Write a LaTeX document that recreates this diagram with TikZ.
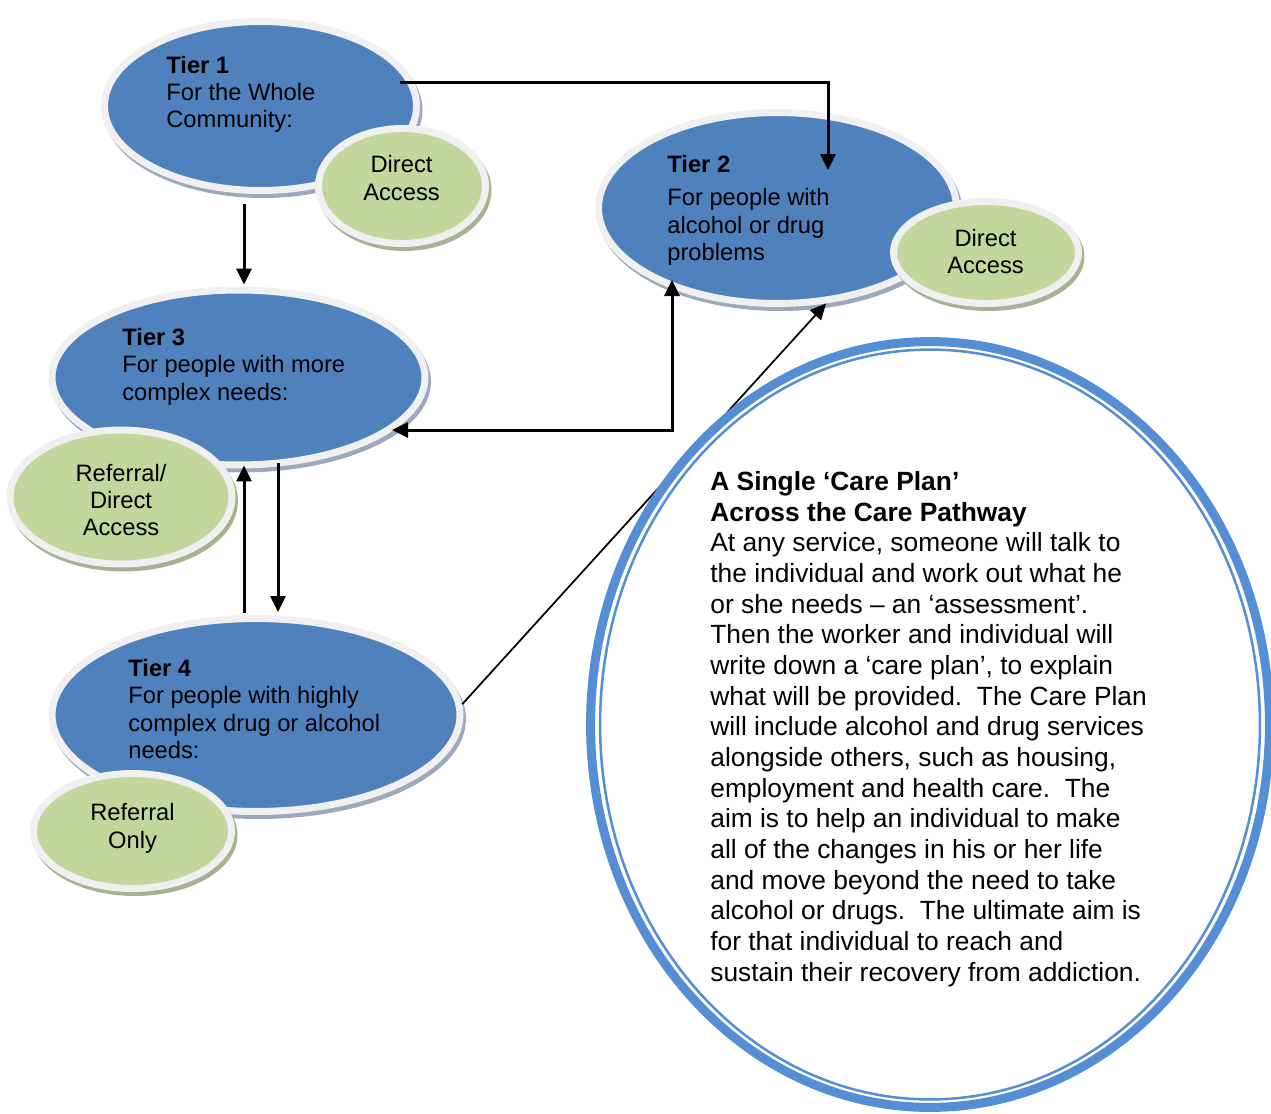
\documentclass[tikz,border=0pt]{standalone}
\usepackage{fontspec}
\setmainfont{Liberation Sans}
\usetikzlibrary{shapes.geometric,shadows,arrows.meta,calc}

\definecolor{tierblue}{HTML}{4F81BD}
\definecolor{accessgreen}{HTML}{C3D69B}
\definecolor{ringgrey}{HTML}{F0F0F0}
\definecolor{tiershadow}{HTML}{9DA8BD}
\definecolor{greenshadow}{HTML}{A7B194}
\definecolor{planblue}{HTML}{558ED5}

\begin{document}
\begin{tikzpicture}[x=0.02cm, y=-0.02cm, >={Triangle[width=0.3cm,length=0.32cm]},
    tier/.style={ellipse, draw=ringgrey, line width=0.14cm, fill=tierblue, inner sep=0pt,
        drop shadow={shadow xshift=0.05cm, shadow yshift=-0.08cm, fill=tiershadow, draw=tiershadow, line width=0.14cm, opacity=1}},
    access/.style={ellipse, draw=ringgrey, line width=0.14cm, fill=accessgreen, inner sep=0pt,
        drop shadow={shadow xshift=0.05cm, shadow yshift=-0.08cm, fill=greenshadow, draw=greenshadow, line width=0.14cm, opacity=1}},
    plan/.style={ellipse, draw=planblue, line width=0.18cm, fill=white, inner sep=0pt},
    tierlabel/.style={anchor=north west, inner sep=0pt, align=left, font=\fontsize{13.5}{15.6}\selectfont},
    accesslabel/.style={inner sep=0pt, align=center, font=\fontsize{13.5}{15.6}\selectfont},
    plantext/.style={anchor=north west, inner sep=0pt, align=left, font=\fontsize{15}{17.45}\selectfont}]

\useasboundingbox (0,0) rectangle (1271,1113);

% Tiers
\node[tier, minimum width=6.24cm, minimum height=3.38cm] (t1) at (260.5,106) {};
\node[access, minimum width=3.34cm, minimum height=2.3cm] (t1da) at (402,186) {};
\node[tierlabel] (t1txt) at (166,55.5) {\textbf{Tier 1}\\For the Whole\\Community:};
\node[accesslabel] (t1datxt) at (401.5,178) {Direct\\Access};

\node[tier, minimum width=7.16cm, minimum height=3.82cm] (t2) at (777.5,208) {};
\node[access, minimum width=3.7cm, minimum height=2.04cm] (t2da) at (986,252.5) {};
\node[tierlabel] (t2txt) at (667,154.5) {\textbf{Tier 2}\\[0.13cm]For people with\\alcohol or drug\\problems};
\node[accesslabel] (t2datxt) at (985.5,251.5) {Direct\\Access};

\node[tier, minimum width=7.46cm, minimum height=3.5cm] (t3) at (238.5,377.5) {};
\node[access, minimum width=4.44cm, minimum height=2.68cm] (t3da) at (121,497) {};
\node[tierlabel] (t3txt) at (122,328) {\textbf{Tier 3}\\For people with more\\complex needs:};
\node[accesslabel] (t3datxt) at (121,500) {Referral/\\Direct\\Access};

\node[tier, minimum width=8.16cm, minimum height=3.86cm] (t4) at (256,715) {};
\node[access, minimum width=3.96cm, minimum height=2.3cm] (t4ro) at (132.5,831) {};
\node[tierlabel] (t4txt) at (128,659) {\textbf{Tier 4}\\For people with highly\\complex drug or alcohol\\needs:};
\node[accesslabel] (t4rotxt) at (132.5,828.5) {Referral\\Only};

% Connections
\coordinate (upx) at (244,0);
\coordinate (downx) at (278,0);
\draw[->, line width=0.06cm] ($(t1.center)+(139.5,-24)$) -| ($(t2.center)+(50.5,-38)$);
\draw[->, line width=0.06cm] ($(t1.south -| upx)+(0,10)$) -- ($(t3.north -| upx)+(0,-2)$);
\draw[<->, line width=0.06cm] ($(t3.center)+(153.5,52.5)$) -| ($(t2.center)+(-105.5,72)$);
\draw[->, line width=0.06cm] ($(t4.north -| upx)+(0,-2)$) -- ($(t3.south -| upx)+(0,-3)$);
\draw[->, line width=0.06cm] ($(t3.south -| downx)+(0,-5)$) -- ($(t4.north -| downx)+(0,-3)$);
\draw[->, line width=0.035cm] (t4.3) -- (t2.297);

% Care plan
\node[plan, minimum width=13.58cm, minimum height=15.32cm] (plan) at (930,724.5) {};
\draw[planblue, line width=0.05cm] (plan.center) ellipse [x radius=6.6cm, y radius=7.5cm];
\node[plantext] (plantxt) at (710,471) {\textbf{A Single ‘Care Plan’}\\
\textbf{Across the Care Pathway}\\
At any service, someone will talk to\\
the individual and work out what he\\
or she needs -- an ‘assessment’.\\
Then the worker and individual will\\
write down a ‘care plan’, to explain\\
what will be provided.\ \ The Care Plan\\
will include alcohol and drug services\\
alongside others, such as housing,\\
employment and health care.\ \ The\\
aim is to help an individual to make\\
all of the changes in his or her life\\
and move beyond the need to take\\
alcohol or drugs.\ \ The ultimate aim is\\
for that individual to reach and\\
sustain their recovery from addiction.};

\end{tikzpicture}
\end{document}
